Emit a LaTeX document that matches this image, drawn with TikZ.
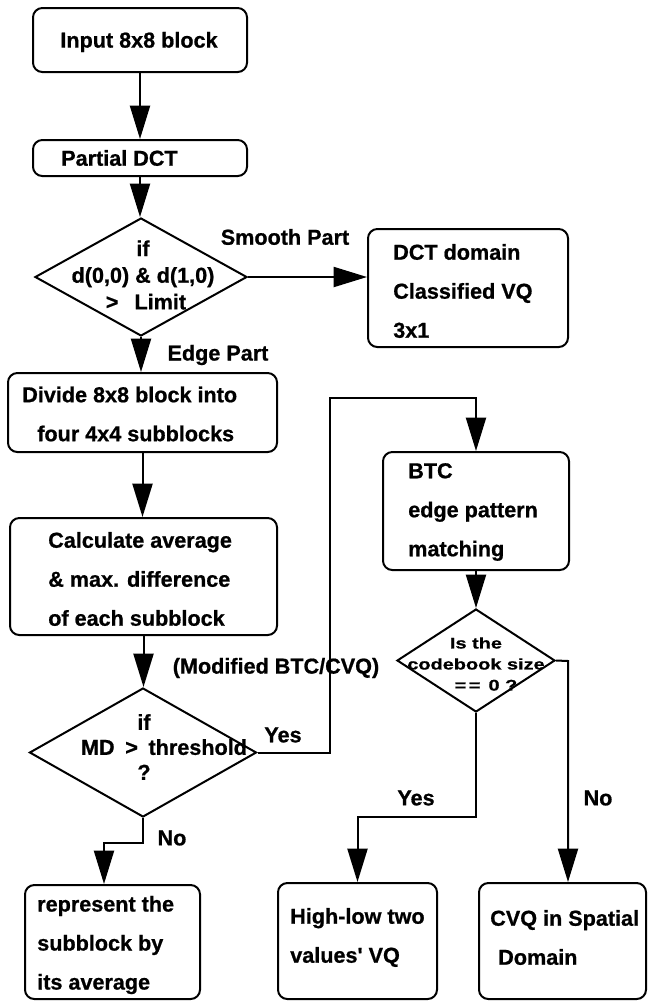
\documentclass[tikz,border=0pt]{standalone}
\usepackage{fontspec}
\setmainfont{Liberation Sans}[BoldFeatures={FakeBold=0.8}]
\newfontfamily\widef{Liberation Sans}[FakeStretch=1.3,BoldFeatures={FakeBold=0.8}]
\usetikzlibrary{arrows.meta,shapes.geometric}
\newcommand{\mainf}{\fontsize{16.2pt}{29.25pt}\selectfont\bfseries}
\begin{document}
\begin{tikzpicture}[x=0.75pt,y=-0.75pt,
  box/.style={draw, line width=1.5pt, rounded corners=7pt, inner sep=0pt},
  dia/.style={draw, shape=diamond, line width=1.5pt, inner sep=0pt},
  txt/.style={font=\mainf, align=left, inner sep=0pt},
  ctxt/.style={font=\mainf, align=center, inner sep=0pt},
  arr/.style={line width=1.5pt, -{Triangle[length=25pt,width=15pt]}}
]
\useasboundingbox (0,0) rectangle (648,1001);

% boxes
\node[box, minimum width=160.5pt, minimum height=48pt] (in) at (140,40) {};
\node[ctxt] (inT) at (139,42) {Input 8x8 block};

\node[box, minimum width=160.5pt, minimum height=27pt] (pdct) at (140,158) {};
\node[txt, anchor=west] (pdctT) at (61,158) {Partial DCT};

\node[dia, minimum width=159pt, minimum height=88.5pt] (d1) at (141,277) {};
\node[ctxt, font=\fontsize{16.2pt}{20pt}\selectfont\bfseries] (d1T) at (143,275)
  {if\\d(0,0) \& d(1,0)\\\hspace*{4.5pt}>\hspace{12pt}Limit};

\node[box, minimum width=150pt, minimum height=88.5pt] (dct) at (468,288) {};
\node[txt, anchor=west] (dctT) at (393,291) {DCT domain\\Classified VQ\\3x1};

\node[box, minimum width=201.75pt, minimum height=59.25pt] (div) at (142.5,412.5) {};
\node[txt, anchor=west] (divT) at (22,414) {Divide 8x8 block into\\\hspace*{11.25pt}four 4x4 subblocks};

\node[box, minimum width=200.25pt, minimum height=87.75pt] (calc) at (143.5,576.5) {};
\node[txt, anchor=west] (calcT) at (48,579) {Calculate average\\\& max. difference\\of each subblock};

\node[dia, minimum width=170.25pt, minimum height=96.75pt] (d2) at (143,752.5) {};
\node[ctxt, font=\fontsize{16.2pt}{18.75pt}\selectfont\bfseries] (d2T) at (144,747)
  {if\\\hspace*{30pt}MD\hspace{8pt}>\hspace{8pt}threshold\\?};

\node[box, minimum width=139.5pt, minimum height=88.5pt] (btc) at (476,511) {};
\node[txt, anchor=west] (btcT) at (408,512) {BTC\\edge pattern\\matching};

\node[dia, minimum width=118.5pt, minimum height=77.25pt] (d3) at (476,660.5) {};
\node[ctxt, font=\widef\fontsize{11.5pt}{15.75pt}\selectfont\bfseries] (d3T) at (476,664)
  {Is the\\codebook size\\\hspace*{15pt}=\,=\hspace{6pt}0 ?};

\node[box, minimum width=131.25pt, minimum height=85.5pt] (rep) at (112.5,942) {};
\node[txt, anchor=west] (repT) at (37,945) {represent the\\subblock by\\its average};

\node[box, minimum width=119.25pt, minimum height=87pt] (hl) at (357.5,941) {};
\node[txt, anchor=west] (hlT) at (290,937.5) {High-low two\\values\textquotesingle{} VQ};

\node[box, minimum width=125.25pt, minimum height=87pt] (cvq) at (562.5,941) {};
\node[txt, anchor=west] (cvqT) at (490,937.5) {CVQ in Spatial\\\hspace*{6pt}Domain};

% labels
\node[txt] (smooth) at (285,237) {Smooth Part};
\node[txt] (edge) at (218,355) {Edge Part};
\node[txt] (mod) at (276,668) {(Modified BTC/CVQ)};
\node[txt] (yes1) at (283,735) {Yes};
\node[txt] (no1) at (172,838) {No};
\node[txt] (yes2) at (416,798) {Yes};
\node[txt] (no2) at (598,798) {No};

% connectors
\draw[arr] (in.south) -- (in.south |- pdct.north);
\draw[arr] (pdct.south) -- (pdct.south |- d1.north);
\draw[arr] (d1.east) -- (d1.east -| dct.west);
\draw[arr] (d1.south) -- (d1.south |- div.north);
\draw[arr] (div.south) -- (div.south |- calc.north);
\draw[arr] (calc.south) -- (calc.south |- d2.north);
\coordinate (yA) at (330,398);
\draw[arr] (d2.east) -| (yA) -| (btc.north);
\draw[arr] (btc.south) -- (btc.south |- d3.north);
\coordinate (nA) at (104,843);
\draw[arr] (d2.south) |- (nA) -- (nA |- rep.north);
\coordinate (yB) at (357.5,817);
\draw[arr] (d3.south) |- (yB) -- (yB |- hl.north);
\coordinate (nB) at (568,661);
\draw[arr] (d3.east) -- (nB) -- (nB |- cvq.north);
\end{tikzpicture}
\end{document}
